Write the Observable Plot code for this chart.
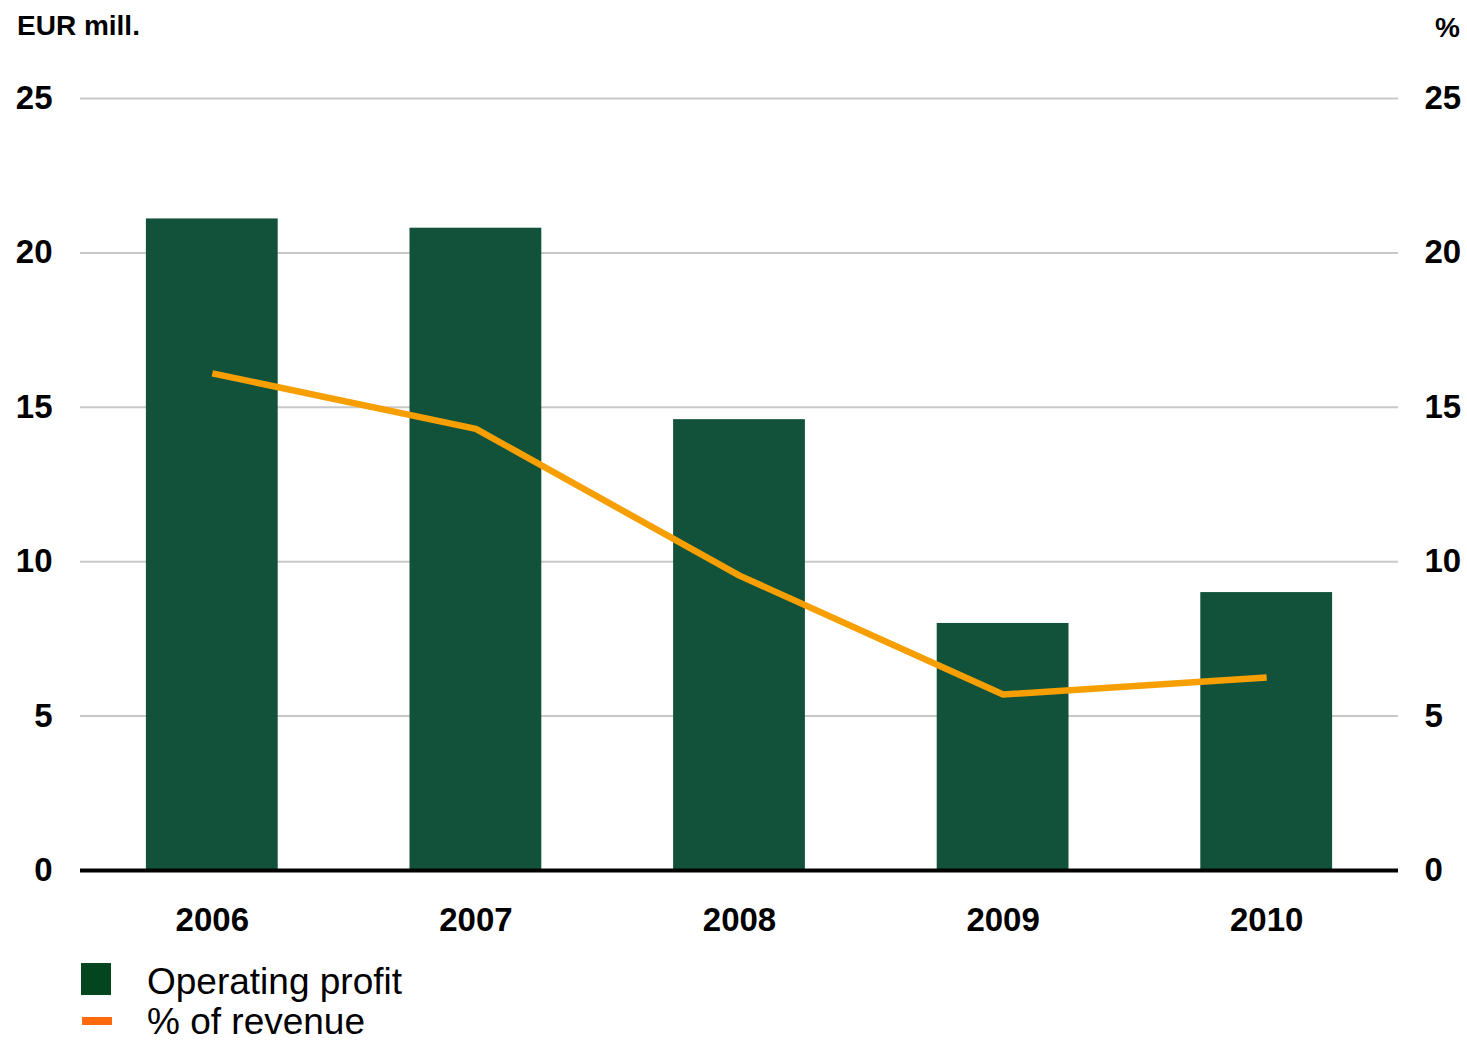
<!DOCTYPE html>
<html>
<head>
<meta charset="utf-8">
<script src="https://cdn.jsdelivr.net/npm/d3@7"></script>
<script src="https://cdn.jsdelivr.net/npm/@observablehq/plot@0.6"></script>
<style>
  html, body { margin: 0; padding: 0; background: #fff; }
  body { width: 1467px; height: 1041px; overflow: hidden; font-family: "Liberation Sans", Arial, sans-serif; color: #000; }
  .head { position: relative; height: 60px; }
  .head .l { position: absolute; left: 17px; top: 10px; font-size: 28px; font-weight: bold; }
  .head .r { position: absolute; right: 7px; top: 12px; font-size: 28px; font-weight: bold; }
  .legend { position: relative; height: 91px; }
  .legend .sw { position: absolute; }
  .legend .lab { position: absolute; left: 147px; font-size: 37px; line-height: 36px; white-space: nowrap; }
</style>
</head>
<body>
<div class="head"><span class="l">EUR mill.</span><span class="r">%</span></div>
<div id="chart"></div>
<div class="legend" id="legend"></div>
<script>
// Operating profit (EUR mill.) and operating margin (% of revenue), 2006–2010
const years = ["2006", "2007", "2008", "2009", "2010"];
const operatingProfit = [21.1, 20.8, 14.6, 8.0, 9.0];
const pctOfRevenue = [16.1, 14.3, 9.55, 5.7, 6.25];
const yTicks = [0, 5, 10, 15, 20, 25];
const seriesNames = ["Operating profit", "% of revenue"];

const barColor = "#12523b";
const lineColor = "#f79f00";

const rows = years.map((year, i) => ({year, profit: operatingProfit[i], pct: pctOfRevenue[i]}));

const axisFont = {fontSize: 33, fontWeight: "bold", fill: "#000"};

const chart = Plot.plot({
  width: 1467,
  height: 890,
  marginLeft: 80,
  marginRight: 69,
  marginTop: 38,
  marginBottom: 80,
  style: {fontFamily: "'Liberation Sans', Arial, sans-serif", fontSize: "33px", fontWeight: "bold", color: "#000", background: "#fff"},
  x: {type: "band", domain: years, paddingInner: 0.5, paddingOuter: 0.25, round: false, label: null},
  y: {domain: [0, 25], label: null},
  marks: [
    Plot.gridY(yTicks.slice(1), {stroke: "#c8c8c8", strokeOpacity: 1, strokeWidth: 2}),
    Plot.barY(rows, {x: "year", y: "profit", fill: barColor}),
    Plot.ruleY([0], {stroke: "#000", strokeWidth: 4}),
    Plot.line(rows, {x: "year", y: "pct", stroke: lineColor, strokeWidth: 6.5, strokeLinecap: "butt", strokeLinejoin: "miter"}),
    Plot.axisY(yTicks, {anchor: "left", tickSize: 0, tickPadding: 28, label: null, ...axisFont}),
    Plot.axisY(yTicks, {anchor: "right", tickSize: 0, tickPadding: 26, label: null, ...axisFont}),
    Plot.axisX({anchor: "bottom", tickSize: 0, tickPadding: 37, label: null, ...axisFont})
  ]
});
document.getElementById("chart").appendChild(chart);

// Legend below the chart
const legend = document.getElementById("legend");
legend.innerHTML = `
  <div class="sw" style="left:81px;top:13px;width:30px;height:32px;background:#03451f"></div>
  <div class="lab" style="top:14px">${seriesNames[0]}</div>
  <div class="sw" style="left:82px;top:67px;width:30px;height:8px;background:#ff6a0c"></div>
  <div class="lab" style="top:54px">${seriesNames[1]}</div>
`;
</script>
</body>
</html>
